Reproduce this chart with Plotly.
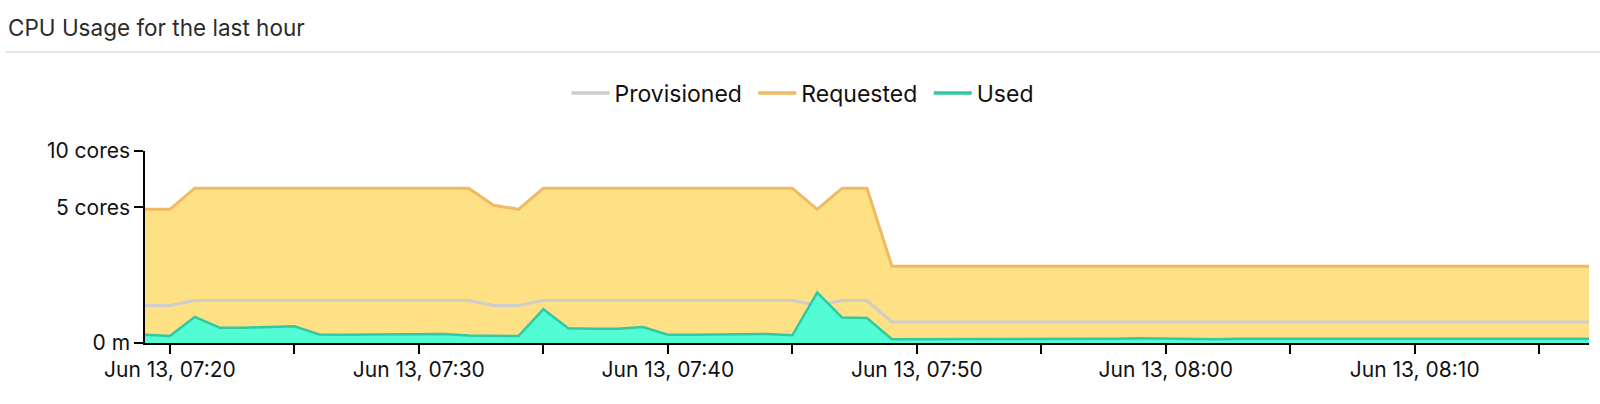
import math
import plotly.graph_objects as go

# ---- data ----
times = [f"2024-06-13 {7 + (19 + i) // 60:02d}:{(19 + i) % 60:02d}:00" for i in range(59)]

requested = ([4.85, 4.85] + [6.5] * 12 + [5.15, 4.85] + [6.5] * 11 + [4.85, 6.5, 6.5] + [1.6] * 29)
provisioned = ([0.38, 0.38] + [0.49] * 12 + [0.38, 0.38] + [0.49] * 11 + [0.38, 0.49, 0.49] + [0.12] * 29)
used = [0.019, 0.013, 0.184, 0.064, 0.064, 0.070, 0.076, 0.020, 0.018, 0.020,
        0.020, 0.020, 0.022, 0.015, 0.015, 0.013, 0.308, 0.059, 0.056, 0.056,
        0.070, 0.019, 0.019, 0.020, 0.020, 0.022, 0.016, 0.688, 0.175, 0.170,
        0.004, 0.004, 0.005, 0.005, 0.005, 0.005, 0.004, 0.004, 0.005, 0.005,
        0.006, 0.005, 0.004, 0.004, 0.005, 0.005, 0.005, 0.004, 0.005, 0.005,
        0.004, 0.004, 0.005, 0.005, 0.004, 0.005, 0.005, 0.004, 0.005]

series_names = ["Provisioned", "Requested", "Used"]

y_tick_values = [0, 5, 10]
y_tick_labels = ["0 m", "5 cores", "10 cores"]

title_text = "CPU Usage for the last hour"

# colours
C_REQ_FILL = "#FEE085"
C_REQ_LINE = "#F1B962"
C_PROV = "#CDCDCD"
C_USED_FILL = "#52FDD5"
C_USED_LINE = "#30C9A2"

# plot-area geometry (px)
W, H = 1600, 404
L, R, T, B = 145, 11, 151, 61
PW, PH = W - L - R, H - T - B


def sq(vals):
    # square-root scale
    return [math.sqrt(v) for v in vals]


def px_x(px):
    return (px - L) / PW


def px_y(py):
    return (H - B - py) / PH


fig = go.Figure()

fig.add_trace(go.Scatter(x=times, y=sq(requested), mode="lines", fill="tozeroy",
                         fillcolor=C_REQ_FILL, line=dict(color=C_REQ_LINE, width=3),
                         showlegend=False, name="Requested"))
fig.add_trace(go.Scatter(x=times, y=sq(provisioned), mode="lines",
                         line=dict(color=C_PROV, width=3),
                         showlegend=False, name="Provisioned"))
fig.add_trace(go.Scatter(x=times, y=sq(used), mode="lines", fill="tozeroy",
                         fillcolor=C_USED_FILL, line=dict(color=C_USED_LINE, width=2.5),
                         showlegend=False, name="Used"))

# legend entries (line samples)
for nm, col in zip(series_names, [C_PROV, C_REQ_LINE, C_USED_LINE]):
    fig.add_trace(go.Scatter(x=[None], y=[None], mode="lines", name=nm + "\u00a0",
                             line=dict(color=col, width=3.5)))

fig.update_layout(
    width=W, height=H,
    margin=dict(l=L, r=R, t=T, b=B, autoexpand=False),
    paper_bgcolor="white", plot_bgcolor="white",
    font=dict(family="Inter", color="#111111", size=21),
    legend=dict(orientation="h", x=px_x(806), xanchor="center", xref="paper",
                y=px_y(93), yanchor="middle", yref="paper",
                font=dict(family="Inter", size=23, color="#111111"),
                traceorder="normal", itemwidth=38),
    showlegend=True,
)

fig.add_annotation(text=title_text, xref="paper", yref="paper",
                   x=px_x(6), xanchor="left", y=px_y(27), yanchor="middle",
                   showarrow=False, font=dict(family="Inter", size=22.5, color="#2b2b2b"))

fig.update_xaxes(
    type="date",
    range=["2024-06-13 07:19:00", "2024-06-13 08:17:00"],
    tick0="2024-06-13 07:20:00", dtick=600000,
    tickformat="%b %d, %H:%M",
    ticks="outside", ticklen=9, tickwidth=1.5, tickcolor="black",
    showline=True, linecolor="black", linewidth=1.5,
    showgrid=False, zeroline=False,
    ticklabelstandoff=-2,
    minor=dict(ticks="outside", ticklen=9, tickwidth=1.5, tickcolor="black",
               dtick=300000, tick0="2024-06-13 07:20:00", showgrid=False),
    tickfont=dict(family="Inter", size=21, color="#111111"),
)

fig.update_yaxes(
    range=[0, math.sqrt(10)],
    tickvals=sq(y_tick_values), ticktext=y_tick_labels,
    ticks="outside", ticklen=9, tickwidth=1.5, tickcolor="black",
    showline=True, linecolor="black", linewidth=1.5,
    showgrid=False, zeroline=False,
    tickfont=dict(family="Inter", size=21, color="#111111"),
)

# separator line under the title
fig.add_shape(type="line", xref="paper", yref="paper",
              x0=px_x(5), x1=px_x(1600),
              y0=px_y(52), y1=px_y(52),
              line=dict(color="#E0E0E0", width=1.5))

fig.write_html("out.html", config={"displayModeBar": False},
               post_script="document.body.style.margin='0';")
